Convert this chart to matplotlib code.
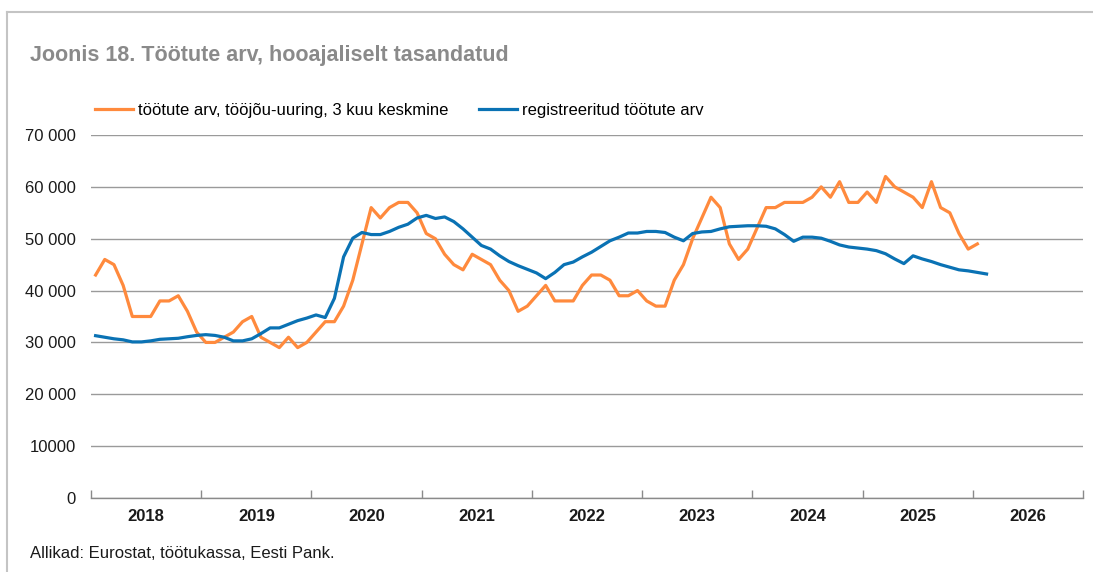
import matplotlib

matplotlib.use("Agg")

import matplotlib.pyplot as plt
import numpy as np
from matplotlib.lines import Line2D
from matplotlib.ticker import FixedLocator, FuncFormatter

plt.rcParams["font.family"] = ["Liberation Sans", "DejaVu Sans"]

ORANGE = "#FF8A3D"
BLUE = "#0A72B4"
GRID = "#9a9a9a"
TITLE_GRAY = "#8a8a8a"

years = ["2018", "2019", "2020", "2021", "2022", "2023", "2024", "2025", "2026"]

# monthly values, Jan 2018 onwards
lfs_3m = [
    43000, 46000, 45000, 41000, 35000, 35000, 35000, 38000, 38000, 39000, 36000, 32000,
    30000, 30000, 31000, 32000, 34000, 35000, 31000, 30000, 29000, 31000, 29000, 30000,
    32000, 34000, 34000, 37000, 42000, 49000, 56000, 54000, 56000, 57000, 57000, 55000,
    51000, 50000, 47000, 45000, 44000, 47000, 46000, 45000, 42000, 40000, 36000, 37000,
    39000, 41000, 38000, 38000, 38000, 41000, 43000, 43000, 42000, 39000, 39000, 40000,
    38000, 37000, 37000, 42000, 45000, 50000, 54000, 58000, 56000, 49000, 46000, 48000,
    52000, 56000, 56000, 57000, 57000, 57000, 58000, 60000, 58000, 61000, 57000, 57000,
    59000, 57000, 62000, 60000, 59000, 58000, 56000, 61000, 56000, 55000, 51000, 48000,
    49000,
]

registered = [
    31300, 31000, 30700, 30500, 30100, 30100, 30300, 30600, 30700, 30800, 31100, 31350,
    31500, 31350, 31000, 30300, 30300, 30700, 31700, 32800, 32800, 33500, 34200, 34700,
    35300, 34800, 38500, 46500, 50100, 51200, 50800, 50800, 51400, 52200, 52800, 54000,
    54500, 53900, 54200, 53300, 51900, 50300, 48700, 48000, 46700, 45600, 44800, 44100,
    43400, 42300, 43500, 45000, 45500, 46500, 47400, 48500, 49600, 50300, 51100, 51100,
    51400, 51400, 51200, 50300, 49600, 51000, 51300, 51400, 51900, 52300, 52400, 52500,
    52500, 52400, 51900, 50800, 49500, 50300, 50300, 50100, 49500, 48800, 48400, 48200,
    48000, 47700, 47100, 46100, 45200, 46700, 46100, 45600, 45000, 44500, 44000, 43800,
    43500, 43200,
]

y_ticks = [0, 10000, 20000, 30000, 40000, 50000, 60000, 70000]


def fmt_y(v, _pos):
    v = int(v)
    if v == 0 or v == 10000:
        return str(v)
    return f"{v // 1000} 000"


fig = plt.figure(figsize=(10.93, 5.72), dpi=100)
ax = fig.add_axes([91 / 1093, 1 - 498 / 572, 992 / 1093, 363 / 572])

x_lfs = np.arange(len(lfs_3m)) + 0.5
x_reg = np.arange(len(registered)) + 0.5
ax.plot(x_lfs, lfs_3m, color=ORANGE, lw=2.3, zorder=3)
ax.plot(x_reg, registered, color=BLUE, lw=2.3, zorder=3)

ax.set_xlim(0, 12 * len(years))
ax.set_ylim(0, 70000)

ax.yaxis.set_major_locator(FixedLocator(y_ticks))
ax.yaxis.set_major_formatter(FuncFormatter(fmt_y))
ax.tick_params(axis="y", length=0, pad=11, labelsize=12, colors="#1a1a1a")
ax.grid(axis="y", color=GRID, lw=1)
ax.set_axisbelow(True)

ax.set_xticks(np.arange(len(years)) * 12 + 6)
ax.set_xticklabels(years, fontweight="bold")
ax.set_xticks(np.arange(len(years) + 1) * 12, minor=True)
ax.tick_params(axis="x", which="major", length=0, pad=8, labelsize=12, colors="#1a1a1a")
ax.tick_params(axis="x", which="minor", direction="in", length=6, width=1, color="#8a8a8a")

for side in ["top", "right", "left"]:
    ax.spines[side].set_visible(False)
ax.spines["bottom"].set_color("#8a8a8a")
ax.spines["bottom"].set_linewidth(1)

# frame lines around the panel
fig.add_artist(Line2D([7 / 1093, 1], [1 - 12 / 572, 1 - 12 / 572], color="#c4c4c4", lw=1.5))
fig.add_artist(Line2D([7 / 1093, 7 / 1093], [0, 1 - 12 / 572], color="#c4c4c4", lw=1.5))

fig.text(30 / 1093, 1 - 56 / 572, "Joonis 18. Töötute arv, hooajaliselt tasandatud",
         fontsize=15.5, fontweight="bold", color=TITLE_GRAY, va="center", ha="left")

handles = [Line2D([], [], color=ORANGE, lw=2.3), Line2D([], [], color=BLUE, lw=2.3)]
labels = ["töötute arv, tööjõu-uuring, 3 kuu keskmine", "registreeritud töötute arv"]
fig.legend(handles, labels, loc="center left", bbox_to_anchor=(80 / 1093, 1 - 110 / 572),
           ncol=2, frameon=False, fontsize=12, handlelength=2.3, handletextpad=0.3,
           columnspacing=1.8)

fig.text(30 / 1093, 1 - 553 / 572, "Allikad: Eurostat, töötukassa, Eesti Pank.",
         fontsize=12, color="#1a1a1a", va="center", ha="left")

fig.savefig("out.png", dpi=100, facecolor="white")
